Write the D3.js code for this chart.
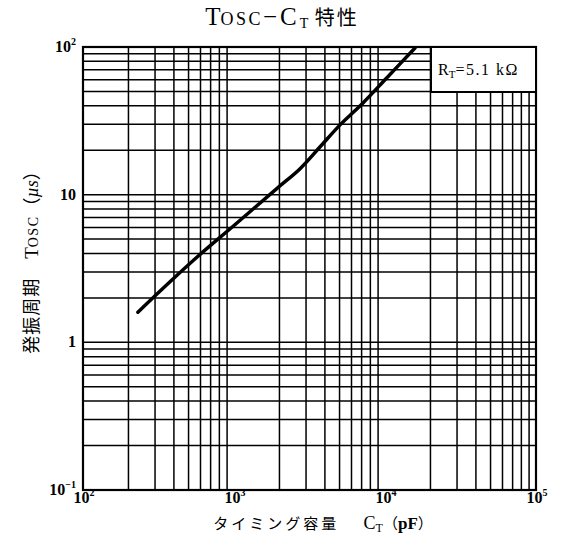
<!DOCTYPE html>
<html>
<head>
<meta charset="utf-8">
<script src="https://cdn.jsdelivr.net/npm/d3@7"></script>
<style>
  html, body { margin: 0; padding: 0; background: #fff; }
  svg { display: block; }
  text { fill: #000; }
</style>
</head>
<body>
<svg id="chart" width="564" height="547"></svg>
<script>
// Oscillation period vs. timing capacitance (RT = 5.1 kΩ)
const capacitance = [231, 377, 595, 1000, 1920, 2740, 3720, 5040, 7150, 10260, 15800];
const period      = [1.6, 2.57, 3.93, 6.18, 11.0, 15.0, 21.1, 29.7, 41.8, 61.7, 98.4];

const xTickExps = [2, 3, 4, 5];
const yTickLabels = [
  { v: 100, base: "10", sup: "2" },
  { v: 10,  base: "10", sup: "" },
  { v: 1,   base: "1",  sup: "" },
  { v: 0.1, base: "10", sup: "−1" }
];

const svg = d3.select("#chart");
const plotL = 83, plotR = 536, plotT = 47, plotB = 490;

const x = d3.scaleLog().domain([1e2, 1e5]).range([plotL, plotR]);
const y = d3.scaleLog().domain([1e-1, 1e2]).range([plotB, plotT]);

const serif = "'Liberation Serif', 'DejaVu Serif', serif";
const cjk = "'Noto Sans CJK JP', sans-serif";

// Grid: every 1..9 step in each decade
const xGrid = [];
for (let e = 2; e < 5; e++) for (let m = 2; m <= 9; m++) xGrid.push(m * Math.pow(10, e));
const yGrid = [];
for (let e = -1; e < 2; e++) for (let m = 1; m <= 9; m++) yGrid.push(m * Math.pow(10, e));

const g = svg.append("g");

g.selectAll("line.vx").data(xGrid).join("line")
  .attr("x1", d => x(d)).attr("x2", d => x(d))
  .attr("y1", plotT).attr("y2", plotB)
  .attr("stroke", "#000").attr("stroke-width", 1.5);

g.selectAll("line.hy").data(yGrid).join("line")
  .attr("x1", plotL).attr("x2", plotR)
  .attr("y1", d => y(d)).attr("y2", d => y(d))
  .attr("stroke", "#000").attr("stroke-width", 1.5);

// Frame
g.append("rect")
  .attr("x", plotL).attr("y", plotT)
  .attr("width", plotR - plotL).attr("height", plotB - plotT)
  .attr("fill", "none").attr("stroke", "#000").attr("stroke-width", 2.2);

// Characteristic curve
const line = d3.line()
  .x((d, i) => x(capacitance[i]))
  .y((d, i) => y(period[i]))
  .curve(d3.curveCatmullRom.alpha(0.5));

g.append("path")
  .datum(period)
  .attr("d", line)
  .attr("fill", "none")
  .attr("stroke", "#000")
  .attr("stroke-width", 3.5)
  .attr("stroke-linecap", "round");

// Condition box
const boxX = 431, boxY = plotT, boxW = plotR - 431, boxH = 45;
g.append("rect")
  .attr("x", boxX).attr("y", boxY).attr("width", boxW).attr("height", boxH)
  .attr("fill", "#fff").attr("stroke", "#000").attr("stroke-width", 2);
const cond = g.append("text")
  .attr("x", boxX + 7).attr("y", boxY + 28)
  .attr("font-family", serif).attr("font-size", 16);
cond.append("tspan").text("R");
cond.append("tspan").attr("font-size", 11).attr("dy", 3).text("T");
cond.append("tspan").attr("dy", -3).attr("letter-spacing", 1.5).text("=5.1 kΩ");

// X tick labels
xTickExps.forEach(e => {
  const t = svg.append("text")
    .attr("x", x(Math.pow(10, e)) + 1).attr("y", 503)
    .attr("text-anchor", "middle")
    .attr("font-family", serif).attr("font-weight", "bold").attr("font-size", 16);
  t.append("tspan").text("10");
  t.append("tspan").attr("font-size", 10).attr("dy", -7).text(e);
});

// Y tick labels
yTickLabels.forEach(d => {
  const t = svg.append("text")
    .attr("x", 76).attr("y", y(d.v) + 5)
    .attr("text-anchor", "end")
    .attr("font-family", serif).attr("font-weight", "bold").attr("font-size", 16);
  t.append("tspan").text(d.base);
  if (d.sup) t.append("tspan").attr("font-size", 10).attr("dy", -7).text(d.sup);
});

// Title
const title = svg.append("text")
  .attr("x", 282).attr("y", 25)
  .attr("text-anchor", "middle")
  .attr("font-family", serif).attr("font-size", 25);
title.append("tspan").text("T");
title.append("tspan").attr("font-size", 18).attr("letter-spacing", 2.5).text("OSC");
title.append("tspan").attr("letter-spacing", 3).text("−C");
title.append("tspan").attr("font-size", 14).attr("dy", 3).text("T");
title.append("tspan").attr("dy", -3).attr("font-family", cjk).attr("font-size", 20).attr("letter-spacing", 2).text("  特性");

// X axis title
const xt = svg.append("text")
  .attr("x", 323).attr("y", 529)
  .attr("text-anchor", "middle")
  .attr("font-family", cjk).attr("font-size", 15);
xt.append("tspan").attr("letter-spacing", 3).text("タイミング容量　 ");
xt.append("tspan").attr("font-family", serif).attr("font-size", 18).text("C");
xt.append("tspan").attr("font-family", serif).attr("font-size", 12).attr("dy", 3).text("T");
xt.append("tspan").attr("dy", -3).text("（");
xt.append("tspan").attr("font-family", serif).attr("font-weight", "bold").attr("font-size", 17).text("pF");
xt.append("tspan").text("）");

// Y axis title
const yt = svg.append("text")
  .attr("transform", "translate(38,258) rotate(-90)")
  .attr("text-anchor", "middle")
  .attr("font-family", cjk).attr("font-size", 18);
yt.append("tspan").attr("letter-spacing", 1).text("発振周期　");
yt.append("tspan").attr("font-family", serif).attr("font-size", 19).text("T");
yt.append("tspan").attr("font-family", serif).attr("font-size", 14).attr("letter-spacing", 1.5).text("OSC");
yt.append("tspan").text("（");
yt.append("tspan").attr("font-family", serif).attr("font-style", "italic").attr("font-size", 18).text("µs");
yt.append("tspan").text("）");
</script>
</body>
</html>
